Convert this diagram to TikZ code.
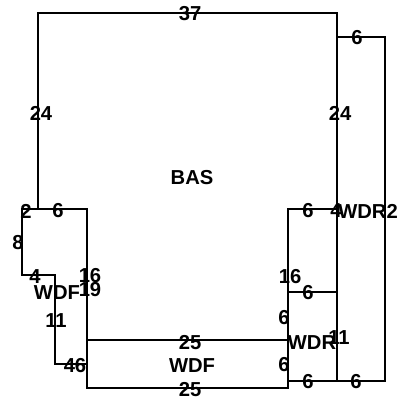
\documentclass[tikz,border=0pt]{standalone}
\usepackage{fontspec}
\setmainfont{Liberation Sans}
\tikzset{
  wall/.style={draw=black,line width=0.9pt},
  dim/.style={font=\fontsize{11.5pt}{12pt}\selectfont\bfseries,inner sep=0pt,text=black},
  room/.style={font=\fontsize{11.5pt}{12pt}\selectfont\bfseries,inner sep=0pt,text=black}
}
\begin{document}
\begin{tikzpicture}[x=0.02cm,y=-0.02cm]
\useasboundingbox (0,0) rectangle (401,400);
\coordinate (A) at (38,13);
\coordinate (B) at (337,13);
\coordinate (C) at (337,37);
\coordinate (D) at (385,37);
\coordinate (E) at (385,381);
\coordinate (F) at (288,381);
\coordinate (G) at (337,381);
\coordinate (H) at (337,209);
\coordinate (I) at (288,209);
\coordinate (J) at (288,292);
\coordinate (K) at (337,292);
\coordinate (L) at (288,340);
\coordinate (M) at (87,340);
\coordinate (N) at (288,388);
\coordinate (O) at (87,388);
\coordinate (P) at (87,209);
\coordinate (Q) at (38,209);
\coordinate (R) at (22,209);
\coordinate (S) at (22,275);
\coordinate (T) at (55,275);
\coordinate (U) at (55,364);
\coordinate (V) at (87,364);
\draw[wall] (Q) -- (A) -- (B) -- (G);
\draw[wall] (C) -- (D) -- (E) -- (F);
\draw[wall] (H) -- (I) -- (N) -- (O) -- (P) -- (R) -- (S) -- (T) -- (U) -- (V);
\draw[wall] (J) -- (K);
\draw[wall] (L) -- (M);
\node[dim] (top) at (190,14) {37};
\node[dim] (leftbas) at (41,113) {24};
\node[dim] (rightbas) at (340,113) {24};
\node[room] (bas) at (192,178) {BAS};
\node[dim] (wdrtop) at (357,38) {6};
\node[dim] (stub) at (26,211) {2};
\node[dim] (ledge) at (58,211) {6};
\node[dim] (leftwdf) at (18,243) {8};
\node[dim] (lowledge) at (35,277) {4};
\node[room] (wdfleft) at (57,293) {WDF};
\node[dim] (sixteenl) at (90,276) {16};
\node[dim] (nineteen) at (90,290) {19};
\node[dim] (eleven) at (56,321) {11};
\node[dim] (foot) at (75,366) {46};
\node[dim] (upper) at (190,343) {25};
\node[room] (wdfbot) at (192,366) {WDF};
\node[dim] (lower) at (190,390) {25};
\node[dim] (sixa) at (308,211) {6};
\node[dim] (four) at (336,211) {4};
\node[room] (wdrtwo) at (368,211) {WDR2};
\node[dim] (sixteenr) at (290,277) {16};
\node[dim] (sixb) at (308,293) {6};
\node[dim] (sixc) at (284,318) {6};
\node[room] (wdrone) at (312,343) {WDR};
\node[dim] (elevenr) at (339,338) {11};
\node[dim] (sixd) at (284,365) {6};
\node[dim] (sixe) at (308,382) {6};
\node[dim] (sixf) at (356,382) {6};
\end{tikzpicture}
\end{document}
